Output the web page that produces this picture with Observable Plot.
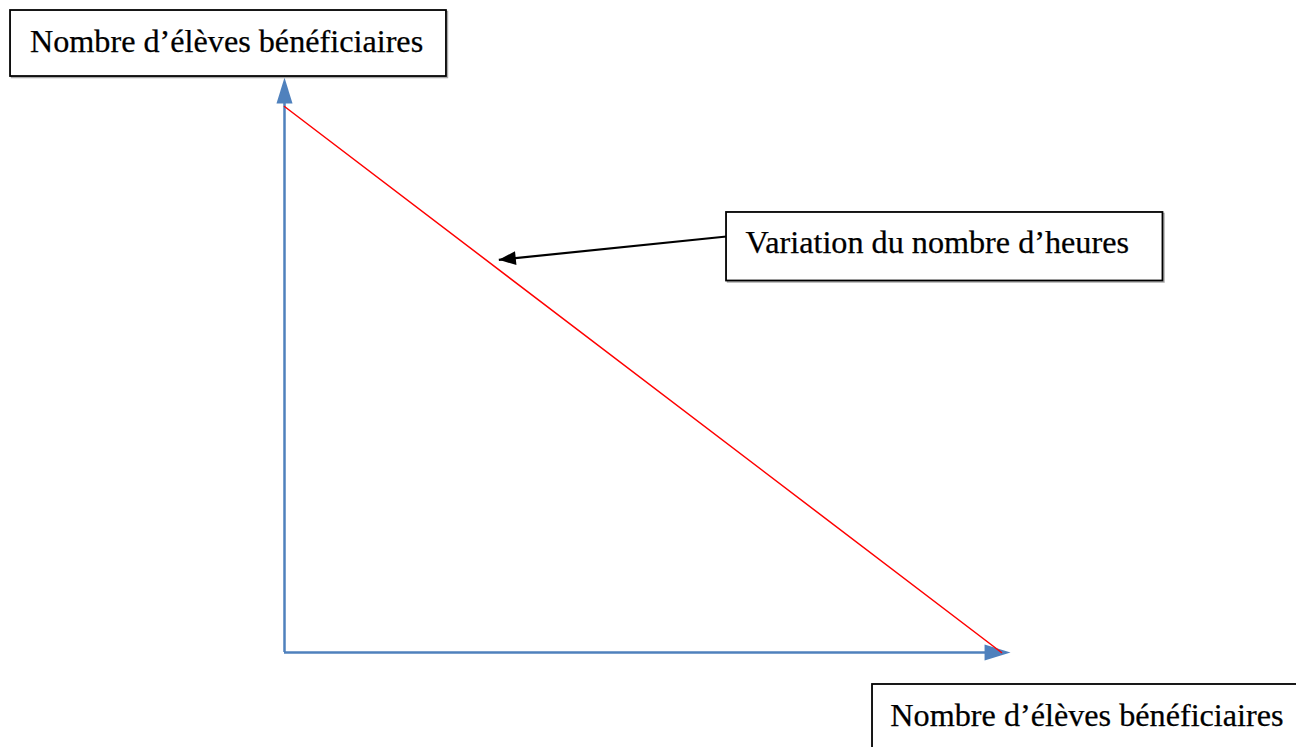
<!DOCTYPE html>
<html>
<head>
<meta charset="utf-8">
<script src="https://cdn.jsdelivr.net/npm/d3@7"></script>
<script src="https://cdn.jsdelivr.net/npm/@observablehq/plot@0.6"></script>
<style>
  html, body { margin: 0; padding: 0; background: #ffffff; }
  #chart svg { display: block; }
</style>
</head>
<body>
<div id="chart"></div>
<script>
// ---- Data (conceptual units: both axes run 0..100 along the red line) ----
// Red line: "Variation du nombre d'heures"
const lineX = [0, 100];
const lineY = [100, 0];

// Axis arrow tips (x axis tip, y axis tip)
const axisTipX = [101.26];
const axisTipY = [105.31];

// Text labels (boxed)
const labelText = [
  "Nombre d\u2019élèves bénéficiaires",
  "Variation du nombre d\u2019heures",
  "Nombre d\u2019élèves bénéficiaires"
];
const labelX = [-35.5, 64.3, 84.5];
const labelY = [111.9, 75.1, -11.5];

// Label boxes
const boxX1 = [-38.21, 61.65, 82.01];
const boxX2 = [22.59, 122.52, 143.1];
const boxY1 = [105.49, 68.04, -19.78];
const boxY2 = [117.58, 80.59, -5.86];

// Annotation arrow: from the middle box to the red line
const annotFromX = [61.65];
const annotFromY = [76.19];
const annotToX = [29.89];
const annotToY = [71.92];

// ---- Build tables ----
const linePts = lineX.map((x, i) => ({x, y: lineY[i]}));
const labels = labelText.map((t, i) => ({t, x: labelX[i], y: labelY[i]}));
const boxes = boxX1.map((x1, i) => ({x1, x2: boxX2[i], y1: boxY1[i], y2: boxY2[i]}));
const annot = annotFromX.map((x1, i) => ({x1, y1: annotFromY[i], x2: annotToX[i], y2: annotToY[i]}));

// filled triangular arrowhead; tip at (0,-l), base width 2r
const triangle = {
  draw(context, l, r) {
    context.moveTo(0, -l);
    context.lineTo(-r, 0);
    context.lineTo(r, 0);
    context.closePath();
  }
};

const blue = "#4F81BD";

const chart = Plot.plot({
  width: 1296,
  height: 747,
  margin: 0,
  style: {background: "#ffffff", fontFamily: "'Liberation Serif', 'Times New Roman', serif"},
  x: {domain: [0, 100], range: [284, 1001], axis: null},
  y: {domain: [0, 100], range: [652, 106], axis: null},
  marks: [
    // axes
    Plot.ruleX([0], {y1: 0, y2: axisTipY[0] - 3, stroke: blue, strokeWidth: 2.5}),
    Plot.ruleY([0], {x1: 0, x2: axisTipX[0] - 2, stroke: blue, strokeWidth: 2.5}),
    Plot.vector([0], {x: 0, y: axisTipY[0], length: 26, r: 8, rotate: 0, anchor: "end",
      shape: triangle, fill: blue, stroke: "none"}),
    Plot.vector([0], {x: axisTipX[0], y: 0, length: 26, r: 8, rotate: 90, anchor: "end",
      shape: triangle, fill: blue, stroke: "none"}),
    // red line
    Plot.line(linePts, {x: "x", y: "y", stroke: "#FF0000", strokeWidth: 1.5}),
    // annotation arrow
    Plot.link(annot, {x1: "x1", y1: "y1", x2: "x2", y2: "y2", stroke: "#000", strokeWidth: 2.2}),
    Plot.vector(annot, {x: "x2", y: "y2", length: 17, r: 7, rotate: -95.8, anchor: "end",
      shape: triangle, fill: "#000", stroke: "none"}),
    // box shadows
    Plot.rect(boxes, {x1: "x1", x2: "x2", y1: "y1", y2: "y2", fill: "none", stroke: "#aaaaaa",
      strokeWidth: 1.5, dx: 1.5, dy: 1.5}),
    // boxes
    Plot.rect(boxes, {x1: "x1", x2: "x2", y1: "y1", y2: "y2", fill: "#ffffff", stroke: "#000",
      strokeWidth: 1.8}),
    // labels
    Plot.text(labels, {x: "x", y: "y", text: "t", textAnchor: "start", fontSize: 32.2,
      fill: "#000", stroke: "#000", strokeWidth: 0.25,
      fontFamily: "'Liberation Serif', 'Times New Roman', serif"})
  ]
});

document.getElementById("chart").appendChild(chart);
</script>
</body>
</html>
